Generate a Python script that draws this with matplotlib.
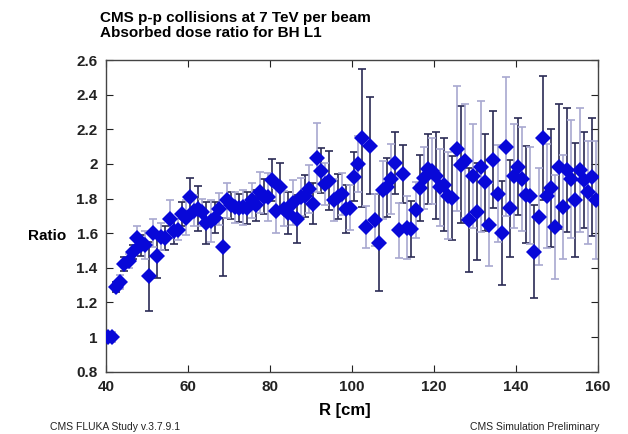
import matplotlib
matplotlib.use("Agg")
import matplotlib.pyplot as plt
import numpy as np

r_cm = [40.5 + i for i in range(120)]

ratio = [
    1.00, 1.00, 1.29, 1.32, 1.42, 1.44, 1.49, 1.57, 1.53, 1.53,
    1.35, 1.60, 1.47, 1.58, 1.57, 1.68, 1.61, 1.62, 1.71, 1.69,
    1.81, 1.73, 1.74, 1.72, 1.66, 1.67, 1.69, 1.74, 1.52, 1.79,
    1.76, 1.75, 1.745, 1.75, 1.745, 1.79, 1.76, 1.835, 1.81, 1.81,
    1.907, 1.729, 1.868, 1.742, 1.717, 1.777, 1.681, 1.81, 1.814, 1.855,
    1.771, 2.035, 1.961, 1.884, 1.903, 1.791, 1.81, 1.826, 1.739, 1.748,
    1.926, 2.00, 2.149, 1.636, 2.106, 1.675, 1.545, 1.849, 1.864, 1.913,
    2.004, 1.617, 1.942, 1.632, 1.623, 1.733, 1.859, 1.917, 1.971, 1.96,
    1.932, 1.864, 1.88, 1.816, 1.803, 2.087, 1.996, 2.015, 1.675, 1.932,
    1.725, 1.984, 1.893, 1.648, 2.023, 1.829, 1.603, 2.10, 1.744, 1.932,
    1.984, 1.913, 1.822, 1.816, 1.493, 1.694, 2.149, 1.816, 1.861, 1.636,
    1.984, 1.752, 1.965, 1.913, 1.79, 1.965, 1.907, 1.835, 1.926, 1.791,
]

ratio_err = [
    0.03, 0.03, 0.03, 0.04, 0.04, 0.04, 0.04, 0.07, 0.06, 0.08,
    0.20, 0.08, 0.13, 0.08, 0.07, 0.11, 0.07, 0.06, 0.07, 0.10,
    0.11, 0.09, 0.13, 0.08, 0.12, 0.12, 0.09, 0.09, 0.17, 0.10,
    0.08, 0.09, 0.08, 0.10, 0.09, 0.10, 0.09, 0.12, 0.10, 0.14,
    0.12, 0.13, 0.14, 0.10, 0.12, 0.13, 0.14, 0.11, 0.12, 0.14,
    0.12, 0.20, 0.13, 0.12, 0.17, 0.12, 0.13, 0.12, 0.14, 0.13,
    0.14, 0.16, 0.40, 0.12, 0.28, 0.15, 0.28, 0.17, 0.17, 0.20,
    0.18, 0.16, 0.17, 0.18, 0.16, 0.16, 0.19, 0.18, 0.20, 0.19,
    0.25, 0.22, 0.27, 0.25, 0.24, 0.36, 0.34, 0.33, 0.30, 0.30,
    0.28, 0.38, 0.28, 0.24, 0.28, 0.28, 0.30, 0.40, 0.28, 0.30,
    0.28, 0.30, 0.28, 0.28, 0.27, 0.28, 0.36, 0.30, 0.34, 0.30,
    0.36, 0.30, 0.36, 0.34, 0.33, 0.36, 0.28, 0.30, 0.34, 0.34,
]

y_ticks = [0.8, 1.0, 1.2, 1.4, 1.6, 1.8, 2.0, 2.2, 2.4, 2.6]
y_labels = ["0.8", "1", "1.2", "1.4", "1.6", "1.8", "2", "2.2", "2.4", "2.6"]
x_ticks = [40, 60, 80, 100, 120, 140, 160]

plt.rcParams['font.family'] = ['Liberation Sans', 'DejaVu Sans']

fig = plt.figure(figsize=(6.28, 4.34), dpi=100)
ax = fig.add_axes([106/628, 1-371.7/434, 492/628, (371.7-60)/434])

x = np.array(r_cm)
y = np.array(ratio)
e = np.array(ratio_err)
dark = np.arange(len(x)) % 2 == 0
for mask, col in [(dark, '#2b2b55'), (~dark, '#a8a8d0')]:
    ax.errorbar(x[mask], y[mask], yerr=e[mask], fmt='none', ecolor=col,
                elinewidth=1.2, capsize=3, capthick=1.2, zorder=2)
ax.plot(x, y, 'D', color='#0808d8', markersize=8, markeredgewidth=0, zorder=3)

ax.set_xlim(40, 160)
ax.set_ylim(0.8, 2.6)
ax.set_xticks(x_ticks)
ax.set_yticks(y_ticks)
ax.set_yticklabels(y_labels)
ax.tick_params(direction='in', top=True, right=True, length=5, width=0.8,
               labelsize=11, pad=6, colors='#222222')
for lab in ax.get_xticklabels() + ax.get_yticklabels():
    lab.set_fontweight('bold')
for s in ax.spines.values():
    s.set_color('#444444')
    s.set_linewidth(1.0)

fig.text(100/628, 1-18/434, "CMS p-p collisions at 7 TeV per beam",
         fontsize=11, fontweight='bold', ha='left', va='center')
fig.text(100/628, 1-33/434, "Absorbed dose ratio for BH L1",
         fontsize=11, fontweight='bold', ha='left', va='center')
fig.text(47/628, 1-236/434, "Ratio", fontsize=11, fontweight='bold',
         ha='center', va='center')
fig.text(345/628, 1-410/434, "R [cm]", fontsize=12, fontweight='bold',
         ha='center', va='center')
fig.text(50/628, 1-427/434, "CMS FLUKA Study v.3.7.9.1", fontsize=7.5,
         ha='left', va='center', color='#222222')
fig.text(600/628, 1-427/434, "CMS Simulation Preliminary", fontsize=7.5,
         ha='right', va='center', color='#222222')

fig.savefig("out.png", dpi=100)
